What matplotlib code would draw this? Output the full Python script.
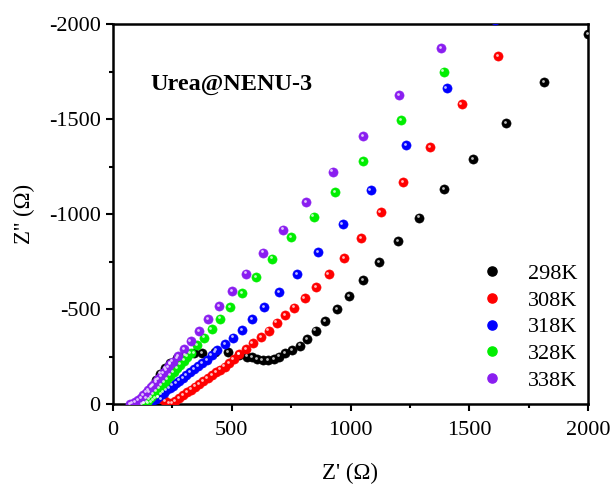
import matplotlib
matplotlib.use("Agg")
import matplotlib.pyplot as plt
import matplotlib.transforms as mtransforms
from matplotlib.lines import Line2D

plt.rcParams['font.family'] = ['Liberation Serif', 'DejaVu Serif']
plt.rcParams['axes.unicode_minus'] = False

labels = ['298K', '308K', '318K', '328K', '338K']
colors = ['#000000', '#ff0000', '#0000ff', '#00ee00', '#8a1ef0']

zre_298 = [130, 140, 152, 165, 180, 198, 218, 241, 270, 305, 340, 376, 430, 486, 530, 563, 584, 608,
           630, 654, 678, 700, 724, 754, 787, 818, 853, 894, 942, 994, 1054, 1121, 1200, 1290, 1395,
           1516, 1655, 1816, 2000]
zim_298 = [-5, -30, -60, -92, -125, -160, -190, -216, -240, -258, -266, -268, -273, -272, -260, -249, -246, -237,
           -232, -232, -235, -249, -267, -284, -307, -340, -386, -438, -498, -568, -653, -747, -856, -981, -1130,
           -1289, -1479, -1696, -1947]

zre_308 = [190, 205, 220, 235, 248, 262, 278, 295, 312, 328, 345, 362, 380, 398, 416, 434, 452, 470,
           488, 508, 530, 559, 588, 622, 655, 689, 726, 764, 807, 855, 908, 973, 1044, 1127, 1222,
           1335, 1468, 1620]
zim_308 = [-35, -25, -14, -5, -3, -15, -32, -48, -62, -76, -92, -106, -121, -136, -151, -166, -181, -197,
           -214, -236, -263, -291, -319, -354, -386, -428, -467, -507, -556, -614, -682, -768, -875, -1012, -1168,
           -1354, -1577, -1833]

zre_318 = [150, 159, 169, 179, 190, 201, 213, 225, 238, 251, 265, 279, 294, 309, 325, 341, 358, 376,
           395, 415, 436, 472, 504, 542, 587, 637, 700, 775, 862, 967, 1085, 1234, 1405, 1610]
zim_318 = [-2, -10, -19, -28, -38, -49, -60, -72, -84, -97, -110, -123, -137, -151, -166, -182, -198, -215,
           -233, -256, -284, -316, -349, -389, -447, -512, -588, -684, -800, -946, -1125, -1361, -1663, -2020]

zre_328 = [125, 133, 142, 151, 161, 171, 182, 193, 205, 217, 229, 242, 255, 269, 283, 298, 313, 327,
           355, 383, 415, 451, 494, 544, 602, 671, 751, 845, 935, 1053, 1214, 1392]
zim_328 = [0, -4, -12, -24, -37, -51, -67, -82, -99, -116, -132, -150, -168, -188, -207, -228, -249, -270,
           -311, -349, -395, -449, -511, -584, -667, -765, -879, -986, -1114, -1277, -1495, -1749]

zre_338 = [72, 82, 93, 107, 118, 128, 138, 149, 160, 170, 181, 191, 202, 212, 222, 233, 242, 251,
           275, 299, 327, 361, 401, 446, 501, 560, 633, 717, 813, 925, 1054, 1204, 1381]
zim_338 = [0, -2, -8, -21, -33, -47, -60, -74, -87, -100, -115, -130, -146, -161, -178, -196, -210, -223,
           -254, -291, -333, -384, -447, -516, -595, -686, -797, -918, -1061, -1223, -1411, -1626, -1872]

series = [(zre_298, zim_298), (zre_308, zim_308), (zre_318, zim_318),
          (zre_328, zim_328), (zre_338, zim_338)]

xticks = [0, 500, 1000, 1500, 2000]
yticks = [0, -500, -1000, -1500, -2000]

fig = plt.figure(figsize=(6.16, 4.88), dpi=100)
ax = fig.add_axes([113 / 616, 1 - 404 / 488, 475 / 616, 380 / 488])

hl = mtransforms.offset_copy(ax.transData, fig=fig, x=-1.2, y=1.2, units='dots')

for (x, y), c in zip(series, colors):
    ax.plot(x, y, linestyle='none', marker='o', markersize=6.6, markerfacecolor=c,
            markeredgecolor=c, markeredgewidth=0.4, zorder=3)
for (x, y), c in zip(series, colors):
    ax.plot(x, y, linestyle='none', marker='o', markersize=2.0, markerfacecolor='white',
            markeredgewidth=0, alpha=0.75, transform=hl, zorder=4)

ax.set_xlim(0, 2000)
ax.set_ylim(0, -2000)
ax.set_xticks(xticks)
ax.set_yticks(yticks)
ax.set_xticks([250, 750, 1250, 1750], minor=True)
ax.set_yticks([-250, -750, -1250, -1750], minor=True)
ax.tick_params(which='major', direction='out', length=5, width=1.5, labelsize=16)
ax.tick_params(axis='x', which='major', pad=7)
ax.tick_params(axis='y', which='major', pad=4)
ax.tick_params(which='minor', direction='out', length=3, width=1.5)
for s in ax.spines.values():
    s.set_linewidth(1.8)

ax.set_xlabel("Z' (\u03a9)", fontsize=16.5, labelpad=17)
ax.set_ylabel("Z'' (\u03a9)", fontsize=16.5, labelpad=10)

ax.text(0.078, 0.84, 'Urea@NENU-3', transform=ax.transAxes, fontsize=17.5,
        fontweight='bold', ha='left', va='center')

handles = [Line2D([], [], linestyle='none', marker='o', markersize=6.6,
                  markerfacecolor=c, markeredgecolor=c) for c in colors]
ax.legend(handles, labels, loc='lower right', bbox_to_anchor=(1.02, -0.018), frameon=False,
          fontsize=16, labelspacing=0.28, handletextpad=1.1, handlelength=1.0,
          borderpad=0.4)

fig.savefig('out.png', dpi=100)
